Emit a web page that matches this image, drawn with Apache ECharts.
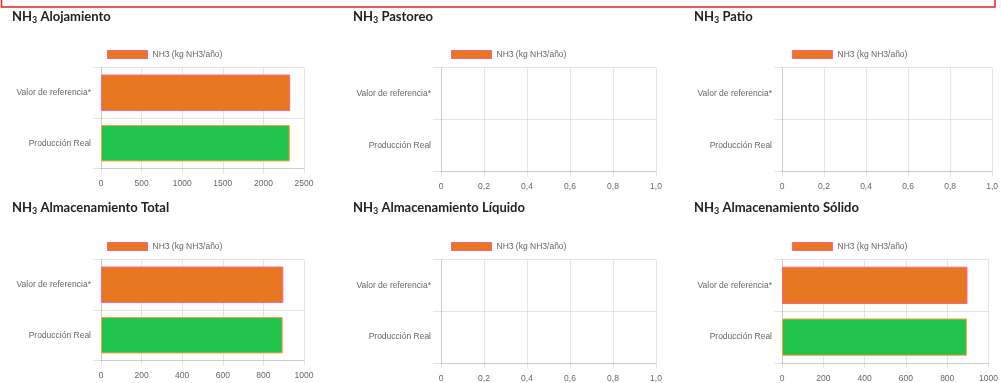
<!DOCTYPE html>
<html>
<head>
<meta charset="utf-8">
<title>Emisiones NH3</title>
<script src="https://cdn.jsdelivr.net/npm/echarts@6/dist/echarts.min.js"></script>
<style>
  html, body { margin: 0; padding: 0; background: #fff; }
  #chart { width: 1001px; height: 383px; }
</style>
</head>
<body>
<div id="chart"></div>
<script>
// Categories shared by every panel (top to bottom)
const categories = ['Valor de referencia*', 'Producción Real'];
const seriesName = 'NH3 (kg NH3/año)';

// Emission values per panel: [Valor de referencia*, Producción Real]
const alojamiento = [2330, 2325];
const pastoreo = [null, null];
const patio = [null, null];
const almacenamientoTotal = [898, 895];
const almacenamientoLiquido = [null, null];
const almacenamientoSolido = [898, 895];

// Value-axis tick labels per panel
const ticksAlojamiento = ['0', '500', '1000', '1500', '2000', '2500'];
const ticksUnit = ['0', '0,2', '0,4', '0,6', '0,8', '1,0'];
const ticksAlmacenamiento = ['0', '200', '400', '600', '800', '1000'];

// Panel titles (after "NH3")
const titles = ['Alojamiento', 'Pastoreo', 'Patio',
  'Almacenamiento Total', 'Almacenamiento Líquido', 'Almacenamiento Sólido'];

const panelValues = [alojamiento, pastoreo, patio,
  almacenamientoTotal, almacenamientoLiquido, almacenamientoSolido];
const panelTicks = [ticksAlojamiento, ticksUnit, ticksUnit,
  ticksAlmacenamiento, ticksUnit, ticksAlmacenamiento];

// Layout of each panel (pixels)
const layout = [
  { tx: 12,  ty: 9,   lx: 107, ly: 50,  gl: 101, gr: 304, gt: 67.5, gb: 168.5 },
  { tx: 353, ty: 9,   lx: 451, ly: 50,  gl: 441, gr: 656, gt: 67.5, gb: 171.5 },
  { tx: 694, ty: 9,   lx: 792, ly: 50,  gl: 782, gr: 996, gt: 67.5, gb: 171.5 },
  { tx: 12,  ty: 200, lx: 107, ly: 242, gl: 101, gr: 304, gt: 259.5, gb: 360.5 },
  { tx: 353, ty: 200, lx: 451, ly: 242, gl: 441, gr: 656, gt: 259.5, gb: 364 },
  { tx: 694, ty: 200, lx: 792, ly: 242, gl: 782, gr: 992, gt: 259.5, gb: 364 }
];

const ORANGE = '#E87722';
const GREEN = '#21C44B';
const PINK = 'rgb(255,99,132)';
const LIGHT_ORANGE = 'rgb(255,159,64)';
const GRID = 'rgba(0,0,0,0.1)';
const LABEL = '#666';
const LABEL_FONT = '"Liberation Sans", Arial, Helvetica, sans-serif';

const titleOpts = [], legendOpts = [], grids = [], xAxes = [], yAxes = [], series = [];

layout.forEach((p, i) => {
  const tickLabels = panelTicks[i];
  const tickValues = tickLabels.map(t => parseFloat(t.replace(',', '.')));
  const lastTick = tickValues[tickValues.length - 1];
  titleOpts.push({
    text: '{b|NH}{s|3}{b| ' + titles[i] + '}',
    left: p.tx, top: p.ty, padding: 0,
    textStyle: {
      rich: {
        b: { fontFamily: 'Lato', fontWeight: 'bold', fontSize: 13, color: '#222', lineHeight: 16 },
        s: { fontFamily: 'Lato', fontWeight: 'bold', fontSize: 9, color: '#222', lineHeight: 9, padding: [7, 0, 0, 0] }
      }
    }
  });
  legendOpts.push({
    data: [seriesName],
    left: p.lx, top: p.ly, padding: 0,
    itemWidth: 40, itemHeight: 8,
    icon: 'rect',
    selectedMode: false,
    itemStyle: { color: ORANGE, borderColor: PINK, borderWidth: 1 },
    textStyle: { fontFamily: LABEL_FONT, fontSize: 8.5, color: LABEL }
  });
  grids.push({ left: p.gl, width: p.gr - p.gl, top: p.gt, height: p.gb - p.gt, containLabel: false });
  xAxes.push({
    type: 'value', gridIndex: i,
    min: tickValues[0], max: lastTick, interval: tickValues[1] - tickValues[0],
    axisLine: { show: true, lineStyle: { color: GRID } },
    axisTick: { show: true, length: 5, lineStyle: { color: GRID } },
    splitLine: { show: true, lineStyle: { color: GRID } },
    axisLabel: {
      margin: 11, fontFamily: LABEL_FONT, fontSize: 8.5, color: LABEL,
      formatter: v => {
        const k = tickValues.findIndex(t => Math.abs(t - v) < lastTick * 1e-6);
        return k >= 0 ? tickLabels[k] : '';
      }
    }
  });
  yAxes.push({
    type: 'category', gridIndex: i, inverse: true, data: categories,
    axisLine: { show: true, lineStyle: { color: GRID } },
    axisTick: { show: true, length: 8, lineStyle: { color: GRID } },
    splitLine: { show: true, lineStyle: { color: GRID } },
    axisLabel: { margin: 10, fontFamily: LABEL_FONT, fontSize: 8.5, color: LABEL }
  });
  const vals = panelValues[i];
  series.push({
    name: seriesName, type: 'bar', xAxisIndex: i, yAxisIndex: i,
    barWidth: '72%',
    itemStyle: { color: ORANGE, borderColor: PINK, borderWidth: 1 },
    data: vals.map((v, k) => k === 1
      ? { value: v, itemStyle: { color: GREEN, borderColor: LIGHT_ORANGE, borderWidth: 1 } }
      : { value: v }),
    animation: false
  });
});

const chart = echarts.init(document.getElementById('chart'), null, { renderer: 'canvas' });
chart.setOption({
  backgroundColor: '#fff',
  animation: false,
  title: titleOpts,
  legend: legendOpts,
  grid: grids,
  xAxis: xAxes,
  yAxis: yAxes,
  series: series,
  graphic: [{
    type: 'rect',
    shape: { x: 1.5, y: -6, width: 993.5, height: 13 },
    style: { fill: 'none', stroke: '#E32222', lineWidth: 1.5 },
    silent: true
  }]
});
</script>
</body>
</html>
